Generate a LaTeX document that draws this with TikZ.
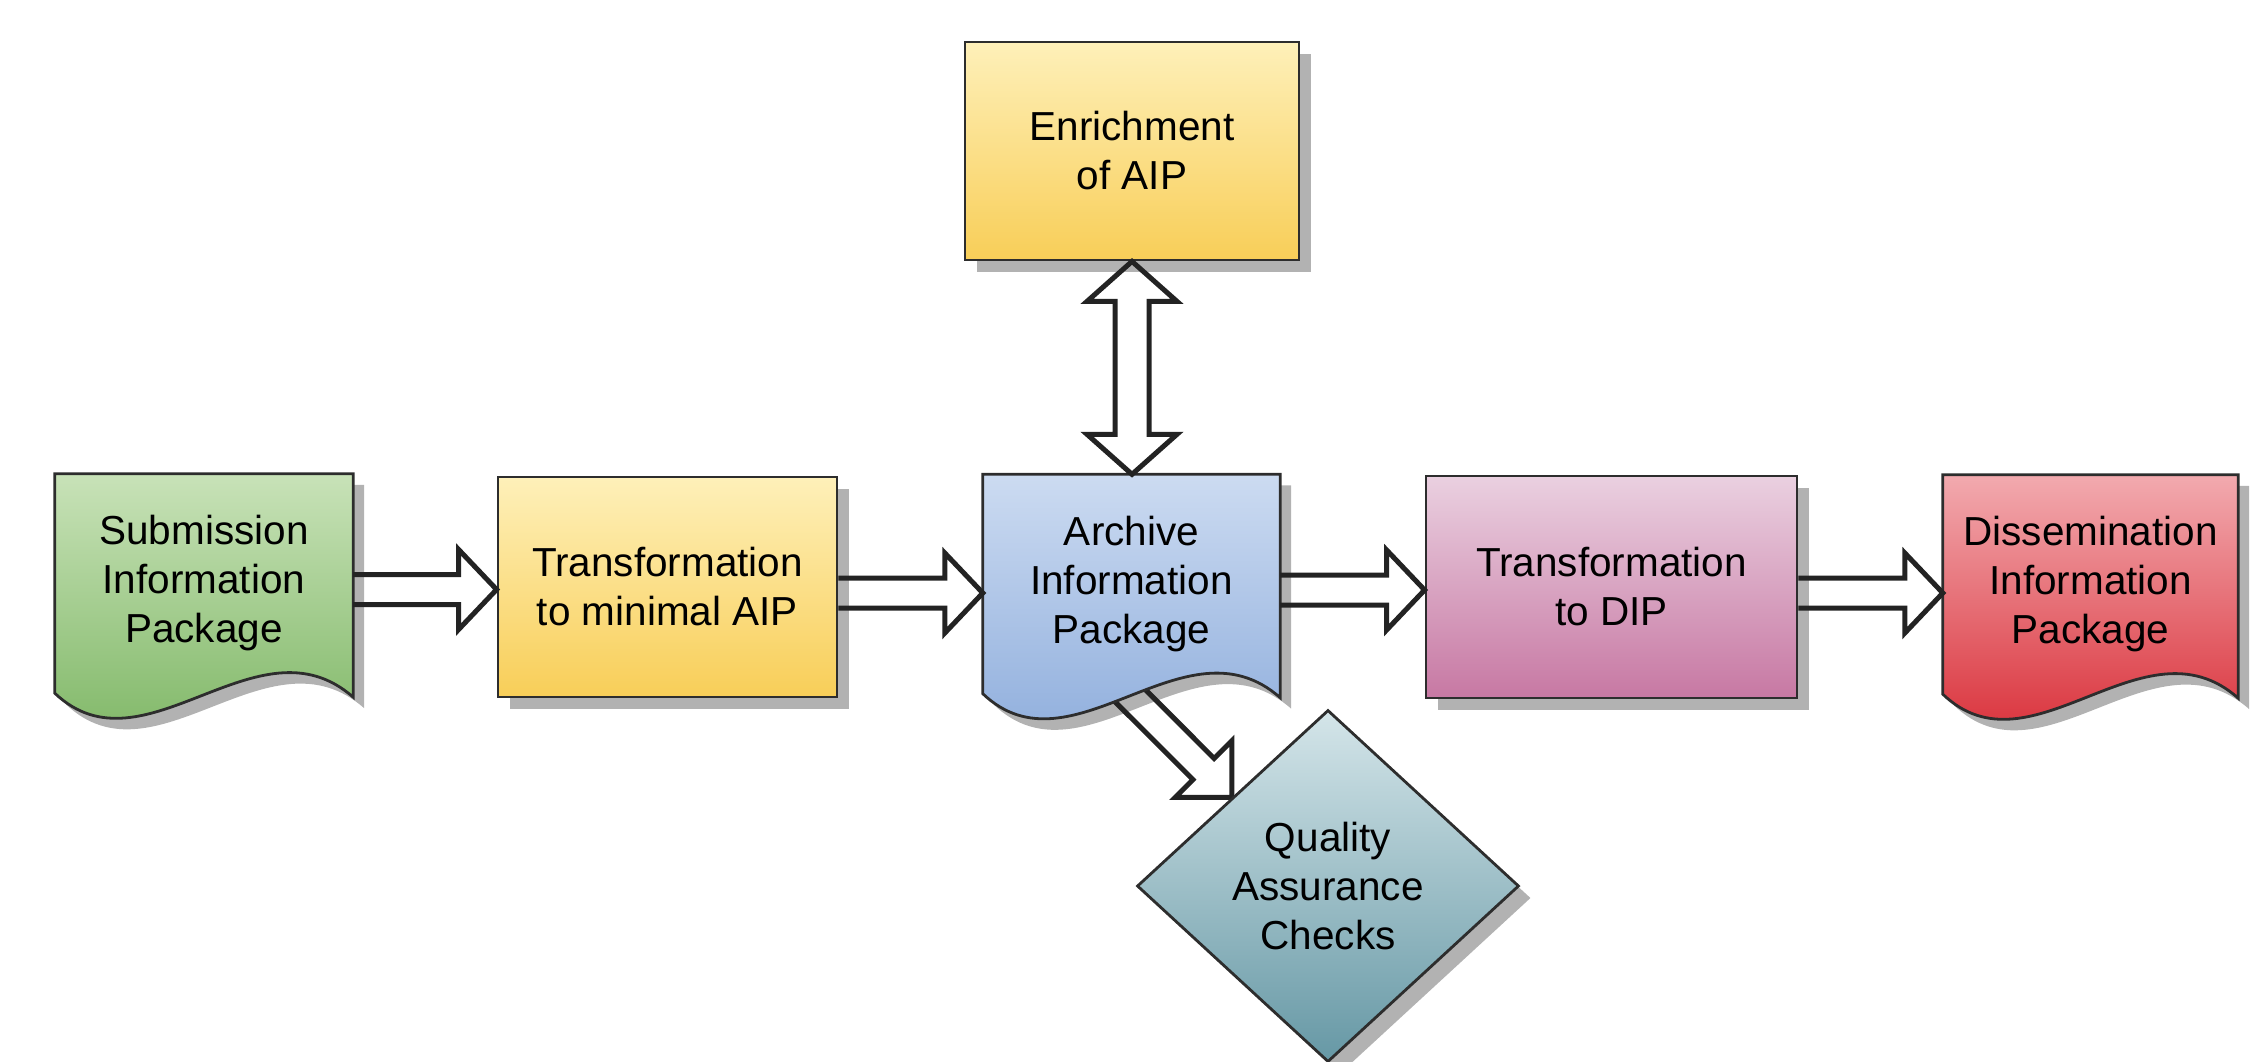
\documentclass[tikz,border=0pt]{standalone}
\usepackage{fontspec}
\setmainfont{Liberation Sans}
\usetikzlibrary{calc,shapes.geometric,shadows}
\definecolor{bordercol}{RGB}{45,45,45}
\definecolor{arrowcol}{RGB}{35,35,35}
\definecolor{shadowgray}{RGB}{178,178,178}
\definecolor{gA}{RGB}{200,226,184}\definecolor{gB}{RGB}{118,178,92}
\definecolor{yA}{RGB}{254,240,185}\definecolor{yB}{RGB}{248,206,88}
\definecolor{bA}{RGB}{204,219,241}\definecolor{bB}{RGB}{135,168,218}
\definecolor{pA}{RGB}{234,208,224}\definecolor{pB}{RGB}{199,120,163}
\definecolor{rA}{RGB}{242,170,175}\definecolor{rB}{RGB}{214,30,40}
\definecolor{tA}{RGB}{212,229,233}\definecolor{tB}{RGB}{102,152,165}
\pgfdeclarelayer{shadowl}\pgfdeclarelayer{under}\pgfdeclarelayer{fills}
\pgfsetlayers{shadowl,under,fills,main}
\newcommand\docpath[2]{($(#1.north west)+#2$) -- ($(#1.north east)+#2$) -- ($(#1.south east)+(0,4)+#2$) .. controls ($(#1.south west)!0.68!(#1.south east)+(0,-80)+#2$) and ($(#1.south west)!0.30!(#1.south east)+(0,85)+#2$) .. ($(#1.south west)+#2$) -- cycle}
\newcommand\harrow[2]{\draw[blk] let \p1=($(#1.east)+(0,6)$), \p2=(#2.west) in (\x1,\y1+15pt) -- (\x2-38pt,\y1+15pt) -- (\x2-38pt,\y1+40pt) -- (\x2,\y1) -- (\x2-38pt,\y1-40pt) -- (\x2-38pt,\y1-15pt) -- (\x1,\y1-15pt);}
\newcommand\docshape[3]{%
\begin{pgfonlayer}{shadowl}\fill[shadowgray] \docpath{#1}{(11,11)};\end{pgfonlayer}
\begin{pgfonlayer}{fills}\path[draw=bordercol, line width=2.8pt, line join=miter, top color=#2, bottom color=#3] \docpath{#1}{(0,0)};\end{pgfonlayer}}
\tikzset{
  lbl/.style={font=\fontsize{40.5pt}{49pt}\selectfont, align=center, text=black, inner sep=0pt},
  shad/.style={drop shadow={shadow xshift=12pt, shadow yshift=-12pt, fill=shadowgray, opacity=1}},
  box/.style={lbl, rectangle, draw=bordercol, line width=2.8pt, shad},
  doc/.style={lbl, rectangle, minimum width=297pt, minimum height=219pt},
  blk/.style={draw=arrowcol, line width=5pt, line join=miter},
}
\begin{document}
\begin{tikzpicture}[x=1pt, y=-1pt]
\useasboundingbox (0,0) rectangle (2253,1061);
% nodes
\node[doc, minimum width=298pt] (sip) at (204,583.5) {Submission\\Information\\Package};
\node[box, minimum width=339pt, minimum height=220pt, top color=yA, bottom color=yB] (tmin) at (667.5,587) {Transformation\\to minimal AIP};
\node[box, minimum width=334pt, minimum height=218pt, top color=yA, bottom color=yB] (enr) at (1132,151) {Enrichment\\of AIP};
\node[doc] (arc) at (1131.5,584) {Archive\\Information\\Package};
\node[box, minimum width=371pt, minimum height=222pt, top color=pA, bottom color=pB] (tdip) at (1611.5,587) {Transformation\\to DIP};
\node[doc, minimum width=295pt] (dis) at (2090.5,584.5) {Dissemination\\Information\\Package};
\node[lbl, diamond, aspect=1.085, minimum width=382pt, minimum height=352pt, draw=bordercol, line width=2.8pt, top color=tA, bottom color=tB, shad] (qac) at (1328,886) {Quality\\Assurance\\Checks};
% document shapes
\docshape{sip}{gA}{gB}
\docshape{arc}{bA}{bB}
\docshape{dis}{rA}{rB}
% horizontal block arrows
\harrow{sip}{tmin}
\harrow{tmin}{arc}
\harrow{arc}{tdip}
\harrow{tdip}{dis}
% vertical double arrow
\draw[blk] let \p1=(enr.south), \p2=(arc.north) in
  (\x1,\y1) -- (\x1+45pt,\y1-40pt) -- (\x1+17pt,\y1-40pt) -- (\x1+17pt,\y2+40pt) -- (\x1+45pt,\y2+40pt) -- (\x1,\y2)
  -- (\x1-45pt,\y2+40pt) -- (\x1-17pt,\y2+40pt) -- (\x1-17pt,\y1-40pt) -- (\x1-45pt,\y1-40pt) -- cycle;
% diagonal arrow
\coordinate (tip) at ($(qac.north)!0.5!(qac.west)$);
\begin{pgfonlayer}{under}
\draw[blk] ($(tip)+(-119.39,-140.61)$) -- ($(tip)+(-17.68,-38.89)$) -- ($(tip)+(0,-56.57)$) -- (tip)
  -- ($(tip)+(-56.57,0)$) -- ($(tip)+(-38.89,-17.68)$) -- ($(tip)+(-140.61,-119.39)$);
\end{pgfonlayer}
\end{tikzpicture}
\end{document}
